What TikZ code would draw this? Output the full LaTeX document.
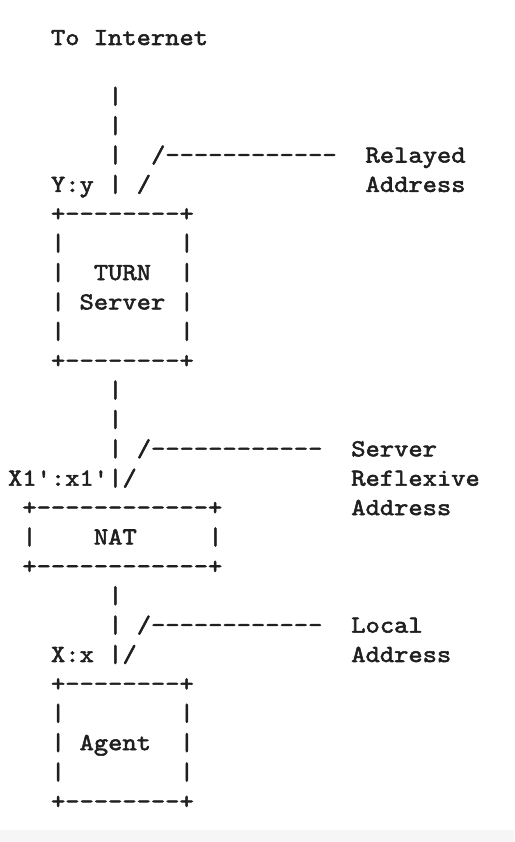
\documentclass[tikz,border=0pt]{standalone}
\usepackage{fontspec}
\newfontfamily\asciifont[Ligatures=TeXOff,FakeStretch=1.11,FakeBold=2.2]{lmmono10-regular.otf}
\usetikzlibrary{positioning}
\tikzset{ascii/.style={anchor=base west,inner sep=0pt,outer sep=0pt,text=black!88,font=\asciifont\fontsize{24.5pt}{29.4pt}\selectfont}}
\begin{document}
\begin{tikzpicture}
\useasboundingbox (0,0) rectangle (514pt,-842pt);
\fill[gray!7] (0,-830pt) rectangle (514pt,-842pt);
\begin{scope}[shift={(51pt,-45pt)},x=14.3pt,y=-29.38pt]
\node[ascii] (inet) at (0,0) {To Internet};
\foreach \r in {2,...,5} \node[ascii] (upbar\r) at (4,\r) {|};
\node[ascii] (relaylink) at (7,4) {/------------};
\node[ascii] (relayed) at (22,4) {Relayed};
\node[ascii] (yy) at (0,5) {Y:y};
\node[ascii] (relayslash) at (6,5) {/};
\node[ascii] (relayaddr) at (22,5) {Address};
\node[ascii] (turntop) at (0,6) {+--------+};
\foreach \r in {7,...,10} {
  \node[ascii] (turnl\r) at (0,\r) {|};
  \node[ascii] (turnr\r) at (9,\r) {|};
}
\node[ascii] (turn) at (3,8) {TURN};
\node[ascii] (server) at (2,9) {Server};
\node[ascii] (turnbot) at (0,11) {+--------+};
\foreach \r in {12,13,14} \node[ascii] (midbar\r) at (4,\r) {|};
\node[ascii] (srflxlink) at (6,14) {/------------};
\node[ascii] (srflx) at (21,14) {Server};
\node[ascii] (xx1) at (-3,15) {X1':x1'};
\node[ascii] (midbar15) at (4,15) {|};
\node[ascii] (srflxslash) at (5,15) {/};
\node[ascii] (reflexive) at (21,15) {Reflexive};
\node[ascii] (nattop) at (-2,16) {+------------+};
\node[ascii] (srflxaddr) at (21,16) {Address};
\node[ascii] (natl) at (-2,17) {|};
\node[ascii] (nat) at (3,17) {NAT};
\node[ascii] (natr) at (11,17) {|};
\node[ascii] (natbot) at (-2,18) {+------------+};
\foreach \r in {19,20,21} \node[ascii] (lowbar\r) at (4,\r) {|};
\node[ascii] (locallink) at (6,20) {/------------};
\node[ascii] (local) at (21,20) {Local};
\node[ascii] (xx) at (0,21) {X:x};
\node[ascii] (localslash) at (5,21) {/};
\node[ascii] (localaddr) at (21,21) {Address};
\node[ascii] (agenttop) at (0,22) {+--------+};
\foreach \r in {23,24,25} {
  \node[ascii] (agentl\r) at (0,\r) {|};
  \node[ascii] (agentr\r) at (9,\r) {|};
}
\node[ascii] (agent) at (2,24) {Agent};
\node[ascii] (agentbot) at (0,26) {+--------+};
\end{scope}
\end{tikzpicture}
\end{document}
